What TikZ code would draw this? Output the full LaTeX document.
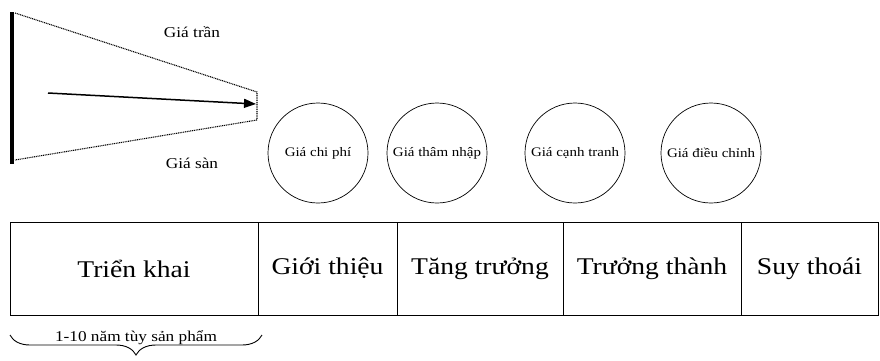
\documentclass[tikz,border=0pt]{standalone}
\usepackage{fontspec}
\setmainfont{Liberation Serif}[FakeStretch=1.15]
\usetikzlibrary{arrows.meta,decorations.pathreplacing}
\begin{document}
\begin{tikzpicture}[x=1pt,y=-1pt,
  dotline/.style={dash pattern=on 1pt off 0.8pt, line width=1.1pt},
  price/.style={circle, draw, line width=0.7pt, minimum size=100pt, inner sep=0pt, font=\fontsize{13}{15}\selectfont},
  cell/.style={draw, line width=0.7pt, minimum height=93pt, inner sep=0pt, font=\fontsize{24}{28}\selectfont},
  lbl/.style={font=\fontsize{15}{17}\selectfont},
  bracelbl/.style={font=\fontsize{15}{17}\selectfont}]
\useasboundingbox (0,0) rectangle (880,360);
% price corridor
\coordinate (tl) at (15,13);
\coordinate (tr) at (257,92);
\coordinate (brr) at (257,120);
\coordinate (bl) at (15,160);
\draw[dotline] (tl) -- (tr) -- (brr) -- (bl);
\coordinate (bart) at (12,12);
\coordinate (barb) at (12,164);
\draw[line width=4pt] (bart) -- (barb);
\coordinate (as) at (48,93);
\coordinate (ae) at (256,104);
\draw[line width=1.5pt, -{Triangle[length=12pt,width=9pt]}] (as) -- (ae);
\node[lbl] (ceil) at (192,32) {Giá trần};
\node[lbl] (floor) at (192,163) {Giá sàn};
% price circles
\node[price] (p1) at (318,153) {Giá chi phí};
\node[price] (p2) at (437,153) {Giá thâm nhập};
\node[price] (p3) at (575,153) {Giá cạnh tranh};
\node[price] (p4) at (711,153) {Giá điều chỉnh};
% stages
\node[cell, minimum width=248pt] (s1) at (134,268.5) {Triển khai};
\node[cell, minimum width=139pt] (s2) at (327.5,268.5) {Giới thiệu};
\node[cell, minimum width=166pt] (s3) at (480,268.5) {Tăng trưởng};
\node[cell, minimum width=178pt] (s4) at (652,268.5) {Trưởng thành};
\node[cell, minimum width=137pt] (s5) at (809.5,268.5) {Suy thoái};
% brace
\coordinate (bs) at (10,335);
\coordinate (be) at (262,335);
\draw[line width=0.9pt, decorate, decoration={brace, mirror, amplitude=20pt}] (bs) -- (be);
\node[bracelbl] (dur) at (136,338) {1-10 năm tùy sản phẩm};
\end{tikzpicture}
\end{document}
